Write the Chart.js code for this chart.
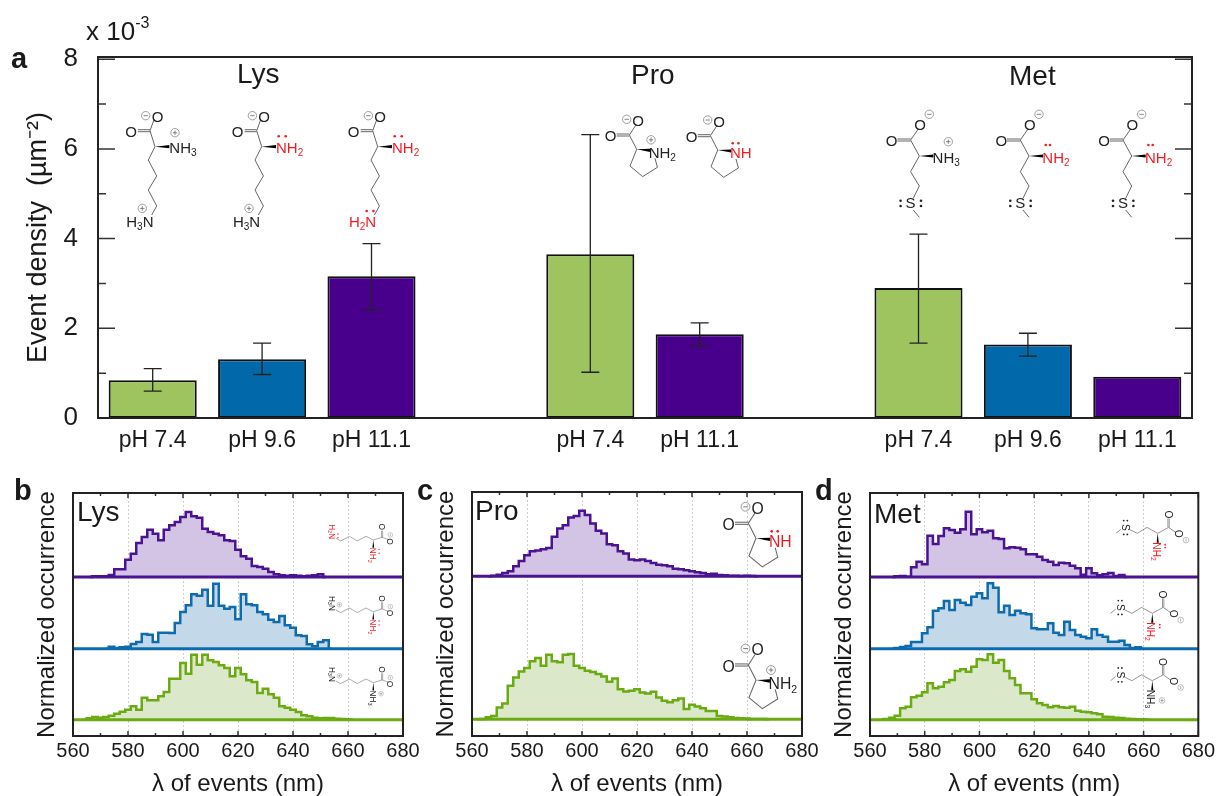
<!DOCTYPE html>
<html>
<head>
<meta charset="utf-8">
<title>Event density and emission spectra</title>
<script src="https://cdn.jsdelivr.net/npm/chart.js@4/dist/chart.umd.min.js"></script>
<style>
body { margin: 0; background: #fff; width: 1218px; height: 796px; position: relative; overflow: hidden; font-family: "Liberation Sans", Arial, sans-serif; color: #1a1a1a; }
canvas { position: absolute; }
svg { position: absolute; left: 0; top: 0; }
.txt { position: absolute; white-space: nowrap; line-height: 1; }
.letter { font-weight: bold; font-size: 29px; }
.name { font-size: 28px; }
sup { font-size: 62%; line-height: 0; position: relative; top: -2px; vertical-align: super; }
</style>
</head>
<body>
<canvas id="chartA" width="1218" height="465" style="left:0;top:0"></canvas>
<canvas id="chartB" width="430" height="326" style="left:0;top:470px"></canvas>
<canvas id="chartC" width="400" height="326" style="left:430px;top:470px"></canvas>
<canvas id="chartD" width="388" height="326" style="left:830px;top:470px"></canvas>
<svg id="mol" width="1218" height="796"></svg>

<div class="txt" style="left:86px;top:18px;font-size:26px">x 10<sup>-3</sup></div>
<div class="txt letter" style="left:11px;top:44px">a</div>
<div class="txt letter" style="left:14px;top:476px">b</div>
<div class="txt letter" style="left:417px;top:476px">c</div>
<div class="txt letter" style="left:815px;top:476px">d</div>
<div class="txt name" style="left:237px;top:60px">Lys</div>
<div class="txt name" style="left:631px;top:61px">Pro</div>
<div class="txt name" style="left:1009px;top:62px">Met</div>
<div class="txt name" style="left:77px;top:498px">Lys</div>
<div class="txt name" style="left:475px;top:497px">Pro</div>
<div class="txt name" style="left:874px;top:500px">Met</div>

<script>
// panel a
const barLabels = ['pH 7.4', 'pH 9.6', 'pH 11.1', '', 'pH 7.4', 'pH 11.1', '', 'pH 7.4', 'pH 9.6', 'pH 11.1'];
const barValues = [0.84, 1.31, 3.16, null, 3.65, 1.87, null, 2.9, 1.64, 0.92];
const errHigh = [1.1, 1.67, 3.89, null, 6.32, 2.12, null, 4.1, 1.89, null];
const errLow = [0.6, 0.97, 2.41, null, 1.02, 1.61, null, 1.67, 1.38, null];

const GREEN = '#9dc45f', BLUE = '#0168a9', PURPLE = '#48008c';
const barColors = [GREEN, BLUE, PURPLE, GREEN, GREEN, PURPLE, GREEN, GREEN, BLUE, PURPLE];

// histograms, 2 nm bins, heights in arbitrary units (peak about 195)
const lysP = [2, 2, 2, 6, 23, 23, 52, 70, 102, 120, 142, 130, 110, 142, 155, 165, 180, 195, 182, 178, 145, 135, 130, 125, 110, 108, 82, 62, 55, 33, 30, 25, 15, 8, 5, 4, 5, 4, 2, 4, 5, 8];
const lysPStart = 568;
const lysB = [6, 2, 4, 6, 14, 20, 44, 42, 20, 48, 48, 47, 77, 110, 130, 163, 159, 177, 129, 195, 129, 120, 125, 88, 163, 133, 130, 110, 103, 87, 80, 98, 70, 63, 40, 38, 13, 7, 20, 25];
const lysBStart = 574;
const lysG = [4, 8, 6, 8, 12, 18, 24, 30, 40, 30, 66, 58, 58, 70, 83, 123, 123, 170, 138, 195, 165, 195, 178, 173, 163, 155, 130, 155, 136, 118, 113, 80, 93, 76, 66, 40, 36, 30, 23, 13, 10, 6, 4, 5, 5, 3, 2, 1];
const lysGStart = 566;

const proP = [2, 5, 10, 15, 30, 46, 63, 75, 77, 81, 85, 118, 143, 153, 176, 180, 196, 183, 158, 136, 128, 96, 93, 75, 68, 50, 48, 50, 46, 40, 35, 33, 30, 23, 21, 18, 15, 12, 10, 6, 8, 4, 3, 2, 2, 1, 2, 1];
const proPStart = 568;
const proG = [1, 6, 10, 35, 47, 100, 125, 143, 153, 173, 183, 160, 193, 173, 170, 193, 195, 160, 153, 145, 141, 135, 128, 112, 122, 90, 83, 85, 90, 80, 77, 82, 65, 55, 51, 57, 62, 31, 43, 38, 33, 25, 25, 10, 8, 6, 4, 3, 2, 1, 1, 1];
const proGStart = 564;

const metP = [2, 3, 1, 29, 46, 38, 124, 99, 123, 146, 141, 133, 143, 196, 128, 143, 134, 139, 116, 114, 86, 89, 88, 83, 68, 68, 61, 51, 46, 36, 43, 41, 34, 26, 7, 26, 11, 5, 8, 12, 3, 6];
const metPStart = 570;
const metB = [2, 5, 8, 20, 20, 46, 64, 114, 121, 143, 116, 146, 138, 131, 156, 166, 151, 196, 183, 109, 129, 101, 114, 106, 103, 61, 58, 58, 76, 48, 41, 81, 56, 41, 36, 31, 58, 41, 36, 21, 21, 24, 11, 2, 4];
const metBStart = 570;
const metG = [2, 6, 12, 34, 39, 67, 72, 82, 109, 94, 99, 112, 119, 146, 151, 144, 159, 181, 179, 196, 171, 179, 146, 124, 104, 79, 79, 61, 49, 44, 37, 41, 37, 36, 39, 27, 24, 22, 19, 16, 9, 8, 6, 5, 3, 2, 1, 1];
const metGStart = 566;

const lineColor = { p: '#4b1391', b: '#0e6cae', g: '#6aab12' };
const fillColor = { p: '#d3c4e5', b: '#c3d9ea', g: '#dce8ca' };

// draws the frame and the inward ticks on both sides of the plot
const frameTicks = {
    id: 'frameTicks',
    afterDatasetsDraw(chart, args, opts) {
        const { ctx, chartArea: a, scales } = chart;
        ctx.save();
        ctx.strokeStyle = '#333';
        ctx.lineWidth = 1.5;
        const scale = scales[opts.axis];
        scale.ticks.forEach(t => {
            const len = t.value % opts.major === 0 ? opts.majorLen : opts.minorLen;
            const p = scale.getPixelForValue(t.value);
            ctx.beginPath();
            if (opts.axis === 'y') {
                ctx.moveTo(a.left, p); ctx.lineTo(a.left + len, p);
                ctx.moveTo(a.right, p); ctx.lineTo(a.right - len, p);
            } else {
                ctx.moveTo(p, a.bottom); ctx.lineTo(p, a.bottom - len);
                ctx.moveTo(p, a.top); ctx.lineTo(p, a.top + len);
            }
            ctx.stroke();
        });
        ctx.strokeStyle = '#222';
        ctx.lineWidth = 2;
        ctx.strokeRect(a.left, a.top, a.right - a.left, a.bottom - a.top);
        ctx.restore();
    }
};

const errorBars = {
    id: 'errorBars',
    afterDatasetsDraw(chart) {
        const { ctx, scales } = chart;
        ctx.save();
        ctx.strokeStyle = '#222';
        ctx.lineWidth = 1.3;
        errHigh.forEach((hi, i) => {
            if (hi === null) return;
            const x = scales.x.getPixelForValue(i);
            const y1 = scales.y.getPixelForValue(hi);
            const y2 = scales.y.getPixelForValue(errLow[i]);
            ctx.beginPath();
            ctx.moveTo(x, y1); ctx.lineTo(x, y2);
            ctx.moveTo(x - 9, y1); ctx.lineTo(x + 9, y1);
            ctx.moveTo(x - 9, y2); ctx.lineTo(x + 9, y2);
            ctx.stroke();
        });
        ctx.restore();
    }
};

new Chart(document.getElementById('chartA'), {
    type: 'bar',
    data: {
        labels: barLabels,
        datasets: [{
            data: barValues,
            backgroundColor: barColors,
            borderColor: '#111',
            borderWidth: 2,
            borderSkipped: false,
            barPercentage: 0.805,
            categoryPercentage: 1
        }]
    },
    plugins: [errorBars, frameTicks],
    options: {
        responsive: false,
        animation: false,
        layout: { padding: { top: 57, right: 26 } },
        plugins: {
            legend: { display: false },
            tooltip: { enabled: false },
            frameTicks: { axis: 'y', major: 2, majorLen: 17, minorLen: 8 }
        },
        scales: {
            x: {
                grid: { display: false },
                border: { display: false },
                ticks: { autoSkip: false, maxRotation: 0, padding: 1, color: '#1a1a1a', font: { family: 'Liberation Sans', size: 23 } },
                afterFit: s => { s.height = 47; }
            },
            y: {
                min: 0,
                max: 8.05,
                grid: { display: false },
                border: { display: false },
                ticks: {
                    stepSize: 1,
                    includeBounds: false,
                    padding: 12,
                    color: '#1a1a1a',
                    font: { family: 'Liberation Sans', size: 26 },
                    callback: v => (v % 2 === 0 ? v : '')
                },
                title: {
                    display: true,
                    text: 'Event density  (µm⁻²)',
                    color: '#1a1a1a',
                    font: { family: 'Liberation Sans', size: 27 },
                    padding: { top: 22, bottom: 0 }
                },
                afterFit: s => { s.width = 98; }
            }
        }
    }
});

// baselines of the stacked traces on the shared y axis (0 to 729)
function traceSets(values, start, key, base) {
    const pts = [{ x: start - 2, y: base }];
    values.forEach((v, i) => pts.push({ x: start + 2 * i, y: base + v }));
    pts.push({ x: start + 2 * values.length, y: base });
    return [
        { data: [{ x: 560, y: base }, { x: 680, y: base }], borderColor: lineColor[key], borderWidth: 3, pointRadius: 0, fill: false },
        { data: pts, stepped: 'middle', borderColor: lineColor[key], borderWidth: 2.5, pointRadius: 0, backgroundColor: fillColor[key], fill: { value: base } }
    ];
}

function histPanel(id, left, right, top, sets) {
    new Chart(document.getElementById(id), {
        type: 'line',
        data: { datasets: sets },
        plugins: [frameTicks],
        options: {
            responsive: false,
            animation: false,
            layout: { padding: { top: top, right: right } },
            plugins: {
                legend: { display: false },
                tooltip: { enabled: false },
                frameTicks: { axis: 'x', major: 20, majorLen: 5, minorLen: 3 }
            },
            scales: {
                x: {
                    type: 'linear',
                    min: 560,
                    max: 680,
                    grid: {
                        drawTicks: false,
                        color: c => (c.tick.value % 20 === 0 ? '#cfcfcf' : 'rgba(0,0,0,0)')
                    },
                    border: { display: false, dash: [2, 2] },
                    ticks: {
                        stepSize: 10,
                        autoSkip: false,
                        maxRotation: 0,
                        padding: 3,
                        color: '#1a1a1a',
                        font: { family: 'Liberation Sans', size: 20 },
                        callback: v => (v % 20 === 0 ? v : '')
                    },
                    title: {
                        display: true,
                        text: 'λ of events (nm)',
                        color: '#1a1a1a',
                        font: { family: 'Liberation Sans', size: 24, lineHeight: 1 },
                        padding: { top: 0, bottom: 0 }
                    },
                    afterFit: s => { s.height = 60; }
                },
                y: {
                    min: 0,
                    max: 729,
                    grid: { display: false },
                    border: { display: false },
                    ticks: { display: false },
                    title: {
                        display: true,
                        text: 'Normalized occurrence',
                        color: '#1a1a1a',
                        font: { family: 'Liberation Sans', size: 24 },
                        padding: { top: left - 40, bottom: 0 }
                    },
                    afterFit: s => { s.width = left; }
                }
            }
        }
    });
}

histPanel('chartB', 73, 27, 23, [
    ...traceSets(lysP, lysPStart, 'p', 477),
    ...traceSets(lysB, lysBStart, 'b', 262),
    ...traceSets(lysG, lysGStart, 'g', 49)
]);
histPanel('chartC', 42, 28, 22, [
    ...traceSets(proP, proPStart, 'p', 477),
    ...traceSets(proG, proGStart, 'g', 50)
]);
histPanel('chartD', 40, 19, 23, [
    ...traceSets(metP, metPStart, 'p', 477),
    ...traceSets(metB, metBStart, 'b', 262),
    ...traceSets(metG, metGStart, 'g', 49)
]);

// molecule sketches
const RED = '#f01c24', INK = '#222', BOND = '#666';

function bond(pts) {
    return `<polyline points="${pts.map(p => p.join(',')).join(' ')}" fill="none" stroke="${BOND}" stroke-width="1"/>`;
}
function label(x, y, html, color, anchor) {
    return `<text x="${x}" y="${y}" fill="${color}" font-size="15" font-family="Liberation Sans" text-anchor="${anchor || 'start'}">${html}</text>`;
}
function sub(n) {
    return `<tspan font-size="10" dy="3">${n}</tspan><tspan dy="-3">&#8203;</tspan>`;
}
function charge(x, y, minus) {
    let s = `<circle cx="${x}" cy="${y}" r="4.2" fill="none" stroke="#888" stroke-width="0.8"/>`;
    s += `<line x1="${x - 2.2}" y1="${y}" x2="${x + 2.2}" y2="${y}" stroke="#666" stroke-width="0.8"/>`;
    if (!minus) s += `<line x1="${x}" y1="${y - 2.2}" x2="${x}" y2="${y + 2.2}" stroke="#666" stroke-width="0.8"/>`;
    return s;
}
function dots(list, color) {
    return list.map(d => `<circle cx="${d[0]}" cy="${d[1]}" r="1.3" fill="${color}"/>`).join('');
}
function wedge(x, y) {
    return `<polygon points="0,0 ${x},${y - 1.6} ${x},${y + 1.6}" fill="#000"/>`;
}
function place(x, y, s, rot, body) {
    return `<g transform="translate(${x} ${y}) rotate(${rot}) scale(${s})">${body}</g>`;
}

// three states of the side chain: charged amine, neutral alpha amine, both neutral
function lys(state) {
    let s = bond([[-5, -16], [0, 0], [-6.7, 13.3], [1.7, 29.3], [-6.7, 43.3], [1.7, 59.3], [-3.3, 68.3]]);
    s += bond([[-5, -16], [-1, -27]]) + bond([[-17, -17], [-5, -17]]) + bond([[-17, -15], [-5, -15]]);
    s += wedge(14.3, 0);
    s += label(-24, -10, 'O', INK, 'middle') + label(2.5, -25, 'O', INK, 'middle') + charge(-9.3, -31, true);
    if (state === 0) {
        s += label(14.3, 6.7, 'NH' + sub(3), INK) + charge(20, -14, false);
    } else {
        s += label(14.3, 6.7, 'NH' + sub(2), RED) + dots([[17, -10.5], [24, -10.5]], RED);
    }
    if (state === 2) {
        s += label(-1.5, 80, 'H' + sub(2) + 'N', RED, 'end') + dots([[-11, 64.3], [-4.3, 64.3]], RED);
    } else {
        s += label(-1.5, 80, 'H' + sub(3) + 'N', INK, 'end') + charge(-12.7, 61.7, false);
    }
    return s;
}
function pro(charged) {
    let s = bond([[-7.3, -14.3], [0, 0], [-6.7, 16.7], [6, 27.3], [20.7, 18], [18.3, 9]]);
    s += bond([[-7.3, -14.3], [-1, -24]]) + bond([[-20, -15.3], [-7.3, -15.3]]) + bond([[-20, -13.3], [-7.3, -13.3]]);
    s += wedge(13.3, 1);
    s += label(-26, -8, 'O', INK, 'middle') + label(1.5, -23.5, 'O', INK, 'middle') + charge(-10, -30, true);
    if (charged) {
        s += label(12, 9, 'NH' + sub(2), INK) + charge(14.3, -9.5, false);
    } else {
        s += label(12.3, 8, 'NH', RED) + dots([[15, -6.7], [20.7, -6.7]], RED);
    }
    return s;
}
function met(charged) {
    let s = bond([[-8.7, -16], [0, 0], [-8.7, 15.7], [0, 30], [-6, 42.3]]) + bond([[-6, 54], [0, 61.3]]);
    s += bond([[-8.7, -16], [-1, -27]]) + bond([[-22, -17], [-8.7, -17]]) + bond([[-22, -15], [-8.7, -15]]);
    s += wedge(14, 0);
    s += label(-27.7, -10.5, 'O', INK, 'middle') + label(0.7, -26, 'O', INK, 'middle') + charge(10, -41.7, true);
    s += label(-8.7, 52.3, 'S', INK, 'middle') + dots([[-18.7, 44.7], [-18.7, 50], [1.7, 44.7], [1.7, 50]], INK);
    if (charged) {
        s += label(13.3, 7.3, 'NH' + sub(3), INK) + charge(29, -14.3, false);
    } else {
        s += label(13.3, 7.3, 'NH' + sub(2), RED) + dots([[16.7, -11], [21, -11]], RED);
    }
    return s;
}

document.getElementById('mol').innerHTML = [
    place(155, 146.7, 1, 0, lys(0)),
    place(261.7, 146.7, 1, 0, lys(1)),
    place(377.7, 146.7, 1, 0, lys(2)),
    place(636.7, 149.3, 1, 0, pro(true)),
    place(717.7, 150, 1, 0, pro(false)),
    place(919.3, 156, 1, 0, met(true)),
    place(1029, 156, 1, 0, met(false)),
    place(1131.7, 156, 1, 0, met(false)),
    place(373.3, 540, 0.55, 90, lys(2)),
    place(373.3, 611.7, 0.55, 90, lys(1)),
    place(373.3, 682.7, 0.55, 90, lys(0)),
    place(756, 538.3, 1.05, 0, pro(false)),
    place(756, 680, 1.05, 0, pro(true)),
    place(1157.7, 533.3, 0.68, 90, met(false)),
    place(1152.3, 613.3, 0.68, 90, met(false)),
    place(1152.3, 680.7, 0.68, 90, met(true))
].join('');
</script>
</body>
</html>
